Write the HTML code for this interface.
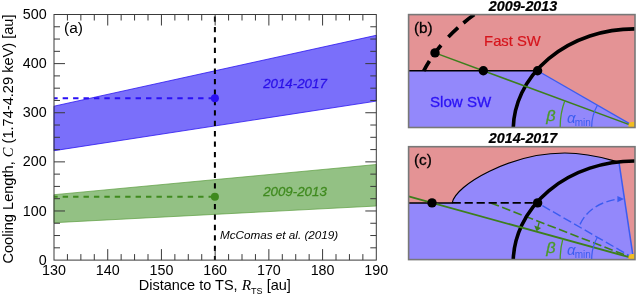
<!DOCTYPE html>
<html><head><meta charset="utf-8"><title>figure</title>
<style>html,body{margin:0;padding:0;background:#fff;width:637px;height:295px;overflow:hidden}</style></head>
<body>
<svg width="637" height="295" viewBox="0 0 637 295" style="display:block;position:absolute;left:0;top:0;will-change:transform" font-family="Liberation Sans, sans-serif">
<rect x="0" y="0" width="637" height="295" fill="#fff"/>
<polygon points="54.0,106.2 376.3,35.3 376.3,101.1 54.0,150.7" fill="#7a6ffa" stroke="#2a14f0" stroke-width="0.8"/>
<polygon points="54.0,194.7 376.3,164.5 376.3,206.0 54.0,222.7" fill="#93c184" stroke="#5a9c3e" stroke-width="0.7"/>
<clipPath id="plotclip"><rect x="54.0" y="14.5" width="322.3" height="245.60000000000002"/></clipPath><g clip-path="url(#plotclip)">
<line x1="52.25" y1="98.3" x2="214.9" y2="98.3" stroke="#2a10f5" stroke-width="2" stroke-dasharray="5.4 5.02"/>
<line x1="52.25" y1="196.7" x2="214.9" y2="196.7" stroke="#3f8a1e" stroke-width="2" stroke-dasharray="5.4 5.02"/>
</g>
<line x1="214.9" y1="16.5" x2="214.9" y2="260" stroke="#000" stroke-width="2" stroke-dasharray="5.3 5.117"/>
<circle cx="214.9" cy="98.3" r="4" fill="#2a10f5"/>
<circle cx="214.9" cy="196.7" r="4" fill="#3f8a1e"/>
<rect x="54.0" y="14.5" width="322.3" height="245.60000000000002" fill="none" stroke="#3a3a3a" stroke-width="1"/>
<path d="M67.43,260.1v-6M67.43,14.5v6M80.86,260.1v-6M80.86,14.5v6M94.29,260.1v-6M94.29,14.5v6M107.72,260.1v-11M107.72,14.5v11M121.15,260.1v-6M121.15,14.5v6M134.57,260.1v-6M134.57,14.5v6M148.00,260.1v-6M148.00,14.5v6M161.43,260.1v-11M161.43,14.5v11M174.86,260.1v-6M174.86,14.5v6M188.29,260.1v-6M188.29,14.5v6M201.72,260.1v-6M201.72,14.5v6M215.15,260.1v-11M215.15,14.5v11M228.58,260.1v-6M228.58,14.5v6M242.01,260.1v-6M242.01,14.5v6M255.44,260.1v-6M255.44,14.5v6M268.87,260.1v-11M268.87,14.5v11M282.30,260.1v-6M282.30,14.5v6M295.73,260.1v-6M295.73,14.5v6M309.15,260.1v-6M309.15,14.5v6M322.58,260.1v-11M322.58,14.5v11M336.01,260.1v-6M336.01,14.5v6M349.44,260.1v-6M349.44,14.5v6M362.87,260.1v-6M362.87,14.5v6M54.0,247.82h6M376.3,247.82h-6M54.0,235.54h6M376.3,235.54h-6M54.0,223.26h6M376.3,223.26h-6M54.0,210.98h11M376.3,210.98h-11M54.0,198.70h6M376.3,198.70h-6M54.0,186.42h6M376.3,186.42h-6M54.0,174.14h6M376.3,174.14h-6M54.0,161.86h11M376.3,161.86h-11M54.0,149.58h6M376.3,149.58h-6M54.0,137.30h6M376.3,137.30h-6M54.0,125.02h6M376.3,125.02h-6M54.0,112.74h11M376.3,112.74h-11M54.0,100.46h6M376.3,100.46h-6M54.0,88.18h6M376.3,88.18h-6M54.0,75.90h6M376.3,75.90h-6M54.0,63.62h11M376.3,63.62h-11M54.0,51.34h6M376.3,51.34h-6M54.0,39.06h6M376.3,39.06h-6M54.0,26.78h6M376.3,26.78h-6" stroke="#3a3a3a" stroke-width="1" fill="none"/>
<text x="54.00" y="275.1" font-size="14.3" text-anchor="middle" fill="#000">130</text>
<text x="107.72" y="275.1" font-size="14.3" text-anchor="middle" fill="#000">140</text>
<text x="161.43" y="275.1" font-size="14.3" text-anchor="middle" fill="#000">150</text>
<text x="215.15" y="275.1" font-size="14.3" text-anchor="middle" fill="#000">160</text>
<text x="268.87" y="275.1" font-size="14.3" text-anchor="middle" fill="#000">170</text>
<text x="322.58" y="275.1" font-size="14.3" text-anchor="middle" fill="#000">180</text>
<text x="376.30" y="275.1" font-size="14.3" text-anchor="middle" fill="#000">190</text>
<text x="46.6" y="264.70" font-size="14.3" text-anchor="end" fill="#000">0</text>
<text x="46.6" y="215.58" font-size="14.3" text-anchor="end" fill="#000">100</text>
<text x="46.6" y="166.46" font-size="14.3" text-anchor="end" fill="#000">200</text>
<text x="46.6" y="117.34" font-size="14.3" text-anchor="end" fill="#000">300</text>
<text x="46.6" y="68.22" font-size="14.3" text-anchor="end" fill="#000">400</text>
<text x="46.6" y="19.10" font-size="14.3" text-anchor="end" fill="#000">500</text>
<text x="64" y="33" font-size="15.5" fill="#000">(a)</text>
<text x="214.8" y="290" font-size="14.5" text-anchor="middle" fill="#000">Distance to TS, <tspan font-family="Liberation Serif, serif" font-style="italic" font-size="15.5">R</tspan><tspan font-size="9" dy="4">TS</tspan><tspan dy="-4"> [au]</tspan></text>
<text transform="translate(12.6,139) rotate(-90)" font-size="14.6" text-anchor="middle" fill="#000">Cooling Length, <tspan font-family="Liberation Serif, serif" font-style="italic">C</tspan> (1.74-4.29 keV) [au]</text>
<text x="263.2" y="87.9" font-size="13.3" font-style="italic" fill="#2a10e8" stroke="#2a10e8" stroke-width="0.28">2014-2017</text>
<text x="263.2" y="196.1" font-size="13.3" font-style="italic" fill="#3f8a1e" stroke="#3f8a1e" stroke-width="0.28">2009-2013</text>
<text x="220" y="239.3" font-size="11.7" font-style="italic" fill="#000">McComas et al. (2019)</text>
<clipPath id="clipb"><rect x="408.6" y="14.6" width="226.39999999999998" height="112.9"/></clipPath>
<g clip-path="url(#clipb)">
<rect x="408.6" y="14.6" width="226.39999999999998" height="112.9" fill="#e49395"/>
<polygon points="408.6,70.8 537.6,70.8 634.7,126.6 636.7,126.6 636.7,127.5 408.6,127.5" fill="#9388fb"/>
<line x1="537.6" y1="70.8" x2="634.7" y2="126.6" stroke="#3b5cf0" stroke-width="1.3"/>
<line x1="408.6" y1="70.8" x2="537.6" y2="70.8" stroke="#000" stroke-width="1.5"/>
<ellipse cx="634.5" cy="130.5" rx="121.3" ry="101.6" fill="none" stroke="#000" stroke-width="3.6"/>
<path d="M423.75,70.8 A225.16,159.62 0 0 1 474.27,14.6" fill="none" stroke="#000" stroke-width="3.7" stroke-dasharray="11.4 7.6 12 11 13.4 7.2 30 30"/>
<line x1="435.0" y1="52.9" x2="634.7" y2="126.6" stroke="#3d7f1c" stroke-width="1.5"/>
<path d="M560.20,128.60 L560.20,126.60 A74.5,74.5 0 0 1 564.81,100.81" fill="none" stroke="#4a9a28" stroke-width="1.3"/>
<path d="M591.70,128.60 L591.70,126.60 A43,43 0 0 1 597.42,105.18" fill="none" stroke="#3b5cf0" stroke-width="1.2"/>
<circle cx="435.0" cy="52.9" r="4.7" fill="#000"/>
<circle cx="483.35" cy="70.8" r="4.7" fill="#000"/>
<circle cx="537.6" cy="70.8" r="4.7" fill="#000"/>
<path d="M628.4,127.5 V125.5 C628.4,123.3 629.8,122.0 632,122.0 L636,121.7 V127.5Z" fill="#f2bd22"/>
</g>
<rect x="408.6" y="14.6" width="226.39999999999998" height="112.9" fill="none" stroke="#787878" stroke-width="1.6"/>
<text transform="translate(546.2,120.9) scale(1.17,1)" font-size="13.9" font-style="italic" fill="#4a9a28" stroke="#4a9a28" stroke-width="0.3">β</text>
<text x="567" y="122.6" font-size="15" font-style="italic" fill="#3b5cf0">α<tspan font-size="10" font-style="normal" dy="3.3" dx="-0.8">min</tspan></text>
<clipPath id="clipc"><rect x="408.6" y="146.7" width="226.39999999999998" height="112.90000000000003"/></clipPath>
<g clip-path="url(#clipc)">
<rect x="408.6" y="146.7" width="226.39999999999998" height="112.90000000000003" fill="#e49395"/>
<path d="M408.6,202.89999999999998 L452.2,202.89999999999998 L452.2,202.9 C455.35,184.9 511.04,153.0 564.82,153.0 C590.46,153.0 607.2,159.1 619.3,162.3 L633.4,258.7 L633.4,259.6 L408.6,259.6Z" fill="#9388fb"/>
<path d="M452.2,202.9 C455.35,184.9 511.04,153.0 564.82,153.0 C590.46,153.0 607.2,159.1 619.3,162.3" fill="none" stroke="#000" stroke-width="1.2"/>
<line x1="619.0" y1="162.4" x2="633.4" y2="258.7" stroke="#3b5cf0" stroke-width="1.5"/>
<line x1="490.7" y1="202.89999999999998" x2="634.7" y2="258.7" stroke="#3d7f1c" stroke-width="1.6" stroke-dasharray="8.8 3.4"/>
<line x1="408.6" y1="202.89999999999998" x2="453" y2="202.89999999999998" stroke="#000" stroke-width="1.5"/>
<line x1="452.6" y1="202.89999999999998" x2="537.6" y2="202.89999999999998" stroke="#000" stroke-width="1.8" stroke-dasharray="8.2 3.8"/>
<line x1="537.6" y1="202.89999999999998" x2="634.7" y2="258.7" stroke="#3b5cf0" stroke-width="1.4" stroke-dasharray="8.8 3.4" stroke-dashoffset="6.7"/>
<ellipse cx="634.5" cy="262.6" rx="121.3" ry="101.6" fill="none" stroke="#000" stroke-width="3.6"/>
<line x1="408.6" y1="196.4583621114948" x2="634.7" y2="258.7" stroke="#3d7f1c" stroke-width="1.9"/>
<path d="M560.20,260.70 L560.20,258.70 A74.5,74.5 0 0 1 562.87,238.93" fill="none" stroke="#4a9a28" stroke-width="1.3"/>
<path d="M591.70,260.70 L591.70,258.70 A43,43 0 0 1 597.42,237.28" fill="none" stroke="#3b5cf0" stroke-width="1.2"/>
<path d="M539.2,222.4L537.9,227.2" stroke="#3d7f1c" stroke-width="1.3" fill="none"/>
<path d="M534.2,225.4L541.1,227.9L536.6,231.2Z" fill="#3d7f1c"/>
<path d="M580,224.4 C 586,211 600,201.5 618,199.1" fill="none" stroke="#3b5cf0" stroke-width="1.4" stroke-dasharray="8.5 3.4"/>
<path d="M617.4,196L624,198.9L617.4,202.2Z" fill="#3b5cf0"/>
<circle cx="432.0" cy="202.89999999999998" r="4.7" fill="#000"/>
<circle cx="537.6" cy="202.89999999999998" r="4.7" fill="#000"/>
<path d="M628.4,259.6 V257.6 C628.4,255.40000000000003 629.8,254.10000000000002 632,254.10000000000002 L636,253.8 V259.6Z" fill="#f2bd22"/>
</g>
<rect x="408.6" y="146.7" width="226.39999999999998" height="112.90000000000003" fill="none" stroke="#787878" stroke-width="1.6"/>
<text transform="translate(546.2,253.0) scale(1.17,1)" font-size="13.9" font-style="italic" fill="#4a9a28" stroke="#4a9a28" stroke-width="0.3">β</text>
<text x="567" y="254.7" font-size="15" font-style="italic" fill="#3b5cf0">α<tspan font-size="10" font-style="normal" dy="3.3" dx="-0.8">min</tspan></text>
<text x="523" y="11.2" font-size="14.3" font-weight="bold" font-style="italic" text-anchor="middle" fill="#000" stroke="#000" stroke-width="0.2">2009-2013</text>
<text x="523" y="143.3" font-size="14.3" font-weight="bold" font-style="italic" text-anchor="middle" fill="#000" stroke="#000" stroke-width="0.2">2014-2017</text>
<text x="413.9" y="32.8" font-size="15.3" fill="#000" stroke="#000" stroke-width="0.3">(b)</text>
<text x="413.9" y="164.9" font-size="15.3" fill="#000" stroke="#000" stroke-width="0.3">(c)</text>
<text x="484.1" y="45.5" font-size="14.8" fill="#d6141c" stroke="#d6141c" stroke-width="0.2">Fast SW</text>
<text x="430" y="106.9" font-size="15.1" fill="#2b12f5" stroke="#2b12f5" stroke-width="0.3">Slow SW</text>
</svg>
</body></html>
